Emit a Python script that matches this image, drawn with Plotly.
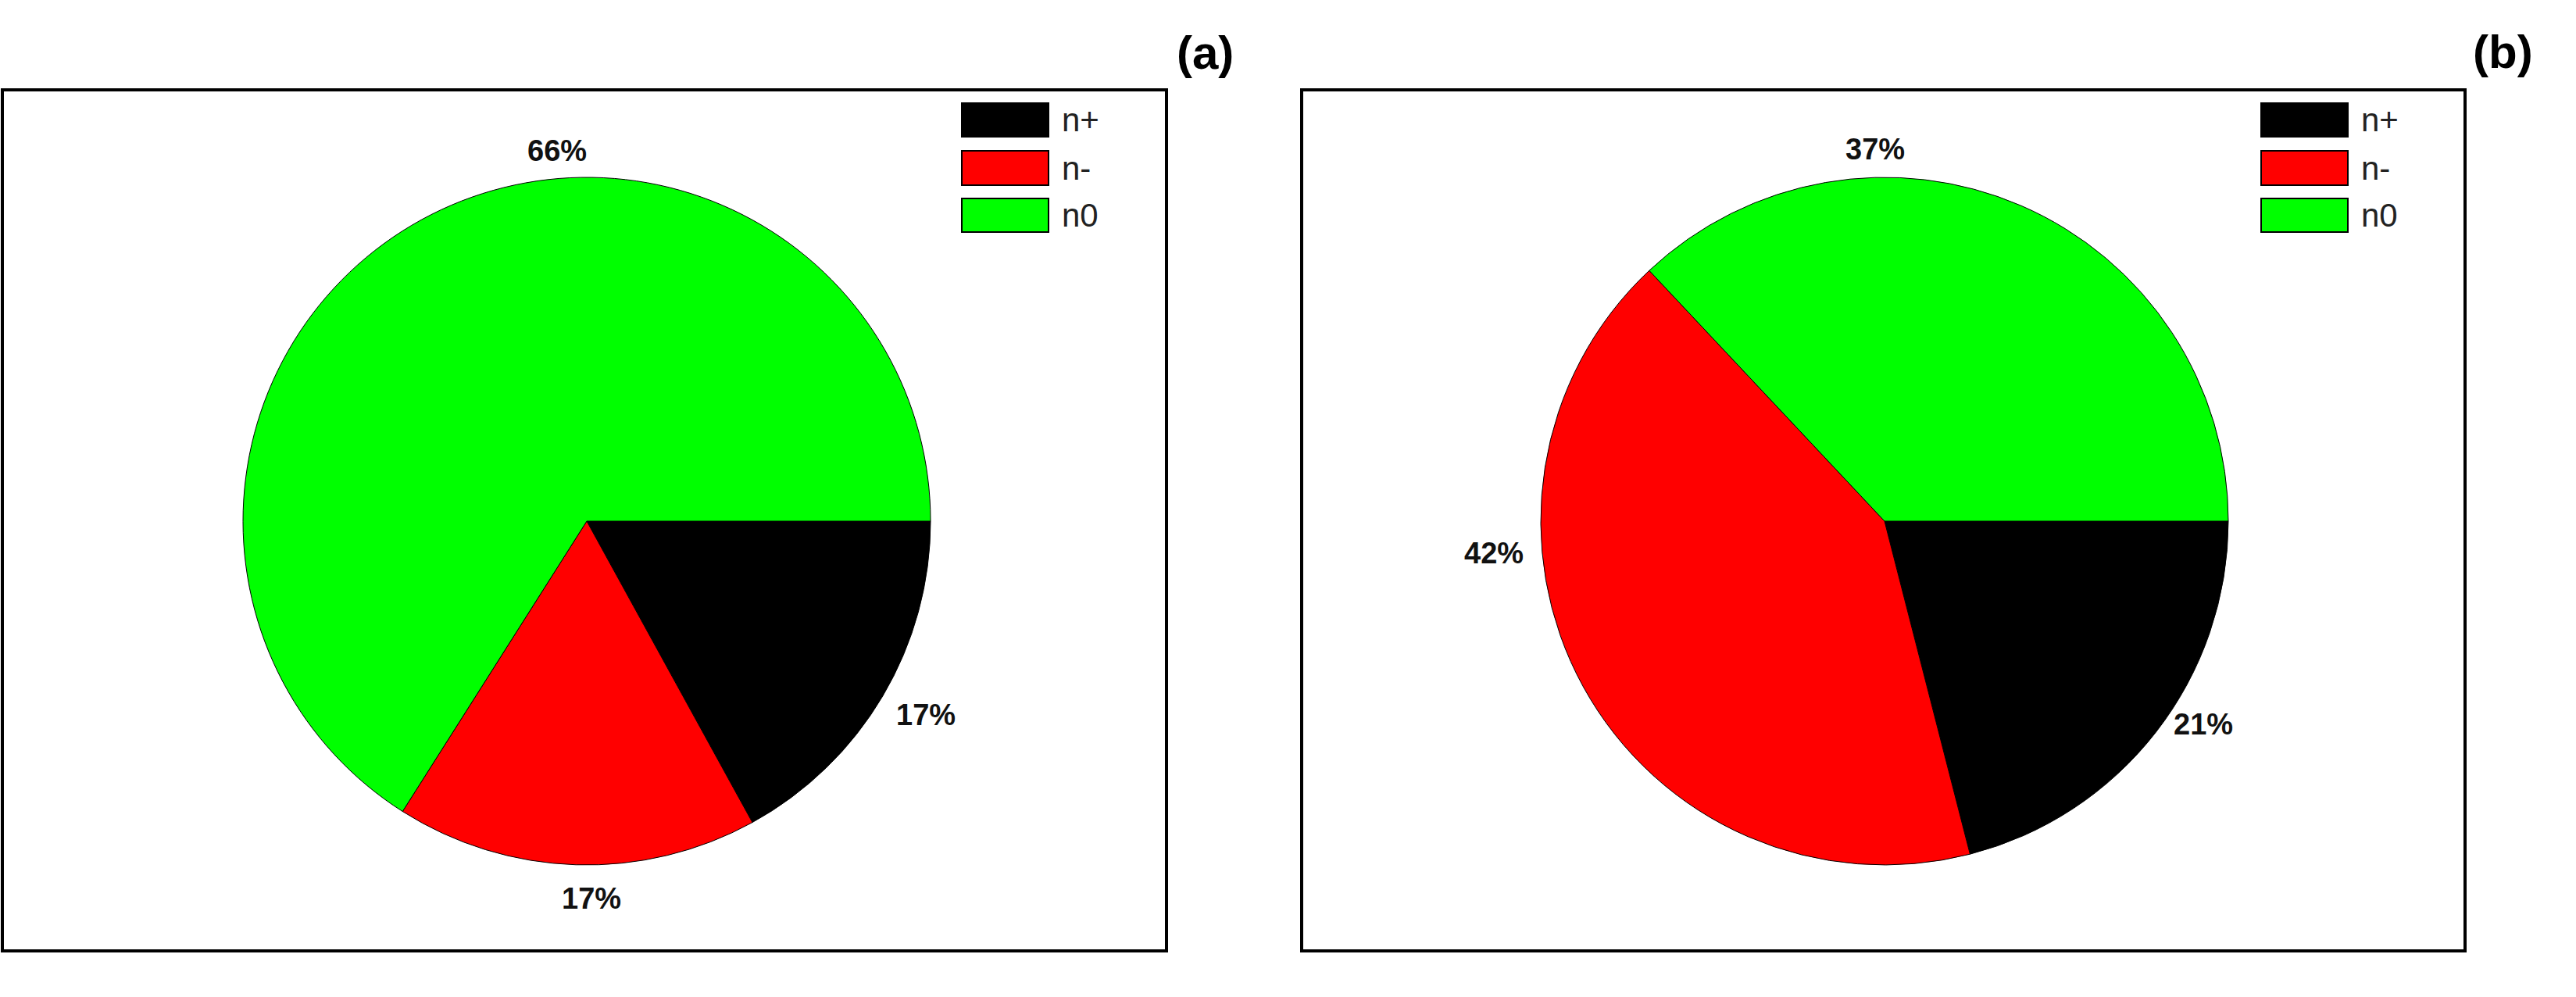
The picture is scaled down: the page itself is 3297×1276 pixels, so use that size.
import plotly.graph_objects as go

W, H = 3297, 1276

categories = ["n+", "n-", "n0"]
values_a = [17, 17, 66]
values_b = [21, 42, 37]
panel_labels = ["(a)", "(b)"]

colors = ["#000000", "#ff0000", "#00ff00"]
FONT = "Liberation Sans, Arial, sans-serif"

# layout geometry in pixels (x from left, y from top)
panels = [
    dict(box=(3, 115, 1493, 1217), center=(751, 667), r=440,
         leg=(1231, 1342, 1357), tag=(1542, 68),
         lab=[(1185, 915), (757, 1150), (713, 193)]),
    dict(box=(1666, 115, 3155, 1217), center=(2412, 667), r=440,
         leg=(2894, 3005, 3020), tag=(3203, 67),
         lab=[(2820, 927), (1912, 708), (2400, 191)]),
]
leg_rows = [(132, 175), (193, 237), (254, 297)]

def px(x):
    return x / W

def py(y):
    return 1 - y / H

fig = go.Figure()
shapes, annots = [], []
for vals, p, tag in zip([values_a, values_b], panels, panel_labels):
    cx, cy = p["center"]
    r = p["r"]
    fig.add_trace(go.Pie(
        labels=categories, values=vals, sort=False, direction="clockwise",
        rotation=90, textinfo="none", hoverinfo="label+percent",
        marker=dict(colors=colors, line=dict(color="#000000", width=1)),
        domain=dict(x=[px(cx - r), px(cx + r)], y=[py(cy + r), py(cy - r)]),
        showlegend=False,
    ))
    x0, y0, x1, y1 = p["box"]
    shapes.append(dict(type="rect", xref="paper", yref="paper",
                       x0=px(x0), x1=px(x1), y0=py(y1), y1=py(y0),
                       line=dict(color="#000000", width=4)))
    total = sum(vals)
    for v, (lx, ly) in zip(vals, p["lab"]):
        annots.append(dict(xref="paper", yref="paper", x=px(lx), y=py(ly),
                           text=f"<b>{round(100 * v / total)}%</b>", showarrow=False,
                           font=dict(family=FONT, size=38, color="#111111"),
                           xanchor="center", yanchor="middle"))
    sx0, sx1, tx = p["leg"]
    for cat, col, (ry0, ry1) in zip(categories, colors, leg_rows):
        shapes.append(dict(type="rect", xref="paper", yref="paper",
                           x0=px(sx0), x1=px(sx1), y0=py(ry1), y1=py(ry0),
                           fillcolor=col, line=dict(color="#000000", width=2)))
        annots.append(dict(xref="paper", yref="paper", x=px(tx), y=py((ry0 + ry1) / 2),
                           text=cat, showarrow=False,
                           font=dict(family=FONT, size=42, color="#222222"),
                           xanchor="left", yanchor="middle"))
    annots.append(dict(xref="paper", yref="paper", x=px(p["tag"][0]), y=py(p["tag"][1]),
                       text=f"<b>{tag}</b>", showarrow=False,
                       font=dict(family=FONT, size=60, color="#000000"),
                       xanchor="center", yanchor="middle"))

fig.update_layout(width=W, height=H, margin=dict(l=0, r=0, t=0, b=0),
                  paper_bgcolor="white", plot_bgcolor="white",
                  shapes=shapes, annotations=annots, showlegend=False)
fig.write_html("out.html", config={"displayModeBar": False},
               post_script="document.body.style.margin='0';document.body.style.overflow='hidden';")
